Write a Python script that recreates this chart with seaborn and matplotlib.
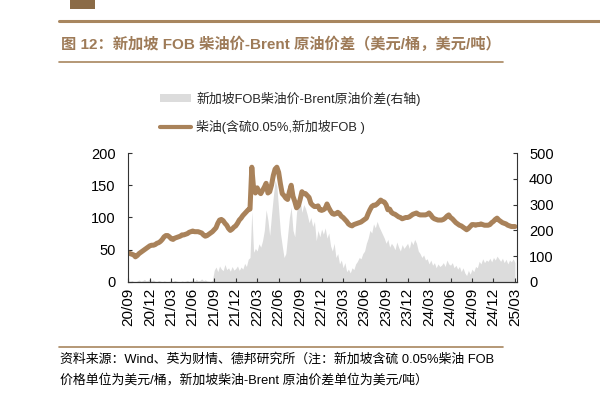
import numpy as np
import pandas as pd
import matplotlib
matplotlib.use('Agg')
import matplotlib.pyplot as plt
from matplotlib.lines import Line2D
from matplotlib.patches import Patch, Rectangle
import seaborn as sns

# 柴油 新加坡FOB (美元/桶), 每月4个点, 从20/09开始
diesel = [
    45, 44, 43, 42,   39, 41, 44, 46,   48, 50, 52, 54,      # 20/09-20/11
    56, 57, 57, 58,   60, 61, 63, 66,   70, 72, 72, 70,      # 20/12-21/02
    67, 66, 68, 69,   70, 71, 73, 73,   74, 75, 77, 78,      # 21/03-21/05
    79, 78, 78, 78,   77, 76, 73, 71,   72, 74, 76, 78,      # 21/06-21/08
    81, 84, 91, 96,   97, 95, 91, 88,   83, 80, 82, 85,      # 21/09-21/11
    87, 91, 96, 99,   103, 106, 109, 112, 113, 178, 145, 138,  # 21/12-22/02
    146, 140, 137, 142, 147, 153, 138, 140, 150, 165, 175, 178,  # 22/03-22/05
    170, 152, 137, 134, 130, 128, 140, 150, 133, 125, 115, 118,  # 22/06-22/08
    128, 140, 137, 137, 134, 131, 122, 119, 117, 117, 118, 112,  # 22/09-22/11
    111, 112, 114, 121, 115, 110, 106, 105, 106, 108, 106, 102,  # 22/12-23/02
    100, 97, 94, 90,  88, 87, 89, 90,   91, 92, 93, 95,      # 23/03-23/05
    97, 99, 106, 112, 117, 119, 119, 121, 124, 127, 125, 124,  # 23/06-23/08
    120, 112, 113, 108, 106, 105, 103, 101, 100, 98, 99, 100,  # 23/09-23/11
    100, 101, 103, 105, 106, 107, 105, 104, 104, 104, 104, 105,  # 23/12-24/02
    107, 104, 100, 98, 97, 96, 96, 96,  97, 99, 102, 104,    # 24/03-24/05
    100, 98, 95, 92,  90, 88, 87, 85,   83, 81, 83, 86,      # 24/06-24/08
    89, 89, 88, 89,   89, 90, 89, 88,   88, 88, 89, 92,      # 24/09-24/11
    94, 97, 99, 96,   94, 92, 91, 90,   88, 87, 86, 86,      # 24/12-25/02
    86,                                                      # 25/03
]

# 新加坡FOB柴油价-Brent原油价差 (美元/吨, 右轴)
spread = [
    3, 0, 5, 2,       0, 4, 8, 3,       5, 10, 4, 6,
    12, 5, 8, 3,      2, 6, 3, 1,       4, 2, 0, 3,
    5, 2, 6, 3,       2, 1, 4, 2,       3, 6, 2, 5,
    8, 3, 10, 4,      6, 12, 5, 8,      4, 3, 2, 6,
    45, 58, 40, 62,   50, 44, 68, 48,   55, 42, 60, 46,
    52, 62, 45, 58,   50, 72, 60, 88,   95, 275, 115, 130,
    120, 148, 135, 160, 200, 280, 240, 180, 260, 330, 395, 370,
    280, 190, 140, 95, 110, 180, 250, 290, 200, 175, 270, 310,
    320, 270, 300, 285, 260, 230, 250, 215, 235, 160, 200, 175,
    205, 185, 210, 170, 190, 140, 120, 150, 95, 110, 70, 85,
    55, 75, 40, 50,   35, 55, 48, 70,   80, 95, 90, 110,
    120, 150, 170, 200, 190, 225, 210, 235, 215, 200, 185, 170,
    150, 165, 135, 150, 140, 125, 155, 135, 120, 145, 130, 140,
    150, 130, 160, 145, 165, 150, 120, 110, 95, 105, 85, 90,
    70, 85, 65, 75,   55, 70, 60, 65,   75, 60, 85, 70,
    65, 75, 55, 65,   50, 60, 40, 55,   35, 25, 45, 30,
    50, 40, 60, 55,   80, 70, 90, 75,   85, 80, 92, 78,
    95, 85, 100, 90,  80, 92, 75, 88,   70, 85, 78, 90,
    75,
]

tick_labels = ['20/09', '20/12', '21/03', '21/06', '21/09', '21/12', '22/03',
               '22/06', '22/09', '22/12', '23/03', '23/06', '23/09', '23/12',
               '24/03', '24/06', '24/09', '24/12', '25/03']

df_line = pd.DataFrame({'month': np.arange(len(diesel)) / 4, 'diesel': diesel})
df_area = pd.DataFrame({'month': np.arange(len(spread)) / 4, 'spread': spread})

BROWN = '#A9825A'
RULE = '#A8865F'
TITLE = '#9E7B58'
GREY = '#DCDCDC'
FONT = ['Liberation Sans', 'Noto Sans CJK SC']

sns.set_style('ticks')
plt.rcParams['font.family'] = FONT

fig = plt.figure(figsize=(6, 3.97), dpi=100)
ax = fig.add_axes([0.2138, 0.2897, 0.6472, 0.3249])
ax2 = ax.twinx()

# 面积 (右轴)
ax2.fill_between(df_area['month'], df_area['spread'], color=GREY, lw=0)
# 折线 (左轴)
sns.lineplot(data=df_line, x='month', y='diesel', ax=ax, color=BROWN, lw=3.6)

ax.set_zorder(ax2.get_zorder() + 1)
ax.patch.set_visible(False)

ax.set_xlim(0, 54.23)
ax.set_ylim(0, 200)
ax2.set_ylim(0, 500)
ax.set_yticks([0, 50, 100, 150, 200])
ax2.set_yticks([0, 100, 200, 300, 400, 500])
ax.set_xticks(np.arange(len(tick_labels)) * 3)
ax.set_xticklabels(tick_labels, rotation=90)
ax.set_xlabel('')
ax.set_ylabel('')

for a in (ax, ax2):
    a.spines['top'].set_visible(False)
    for s in a.spines.values():
        s.set_color('#333333')
        s.set_linewidth(0.8)
ax.spines['right'].set_visible(False)
ax2.spines['left'].set_visible(False)
ax.tick_params(axis='y', direction='in', length=3, pad=9, labelsize=10.5, colors='#333333', labelcolor='black')
ax.tick_params(axis='x', direction='in', length=3, pad=4, labelsize=11, colors='#333333', labelcolor='black')
ax2.tick_params(axis='y', direction='in', length=3, pad=9, labelsize=10.5, colors='#333333', labelcolor='black')

# 图例
handles = [Patch(facecolor=GREY, edgecolor='none'),
           Line2D([0], [0], color=BROWN, lw=3)]
labels = ['新加坡FOB柴油价-Brent原油价差(右轴)', '柴油(含硫0.05%,新加坡FOB )']
fig.legend(handles, labels, loc='upper left', bbox_to_anchor=(148 / 600, 1 - 80 / 397),
           frameon=False, prop={'family': FONT, 'size': 9.3},
           handlelength=2.4, handleheight=0.6, handletextpad=0.45, labelspacing=1.1)

# 标题与分隔线
fig.add_artist(Rectangle((70 / 600, 1 - 9 / 397), 25 / 600, 9 / 397,
                         transform=fig.transFigure, color='#8B6B47', lw=0))
fig.add_artist(Line2D([59 / 600, 1.0], [1 - 20.5 / 397] * 2, transform=fig.transFigure,
                      color=RULE, lw=2.2))
fig.text(61 / 600, 1 - 44 / 397, '图 12：新加坡 FOB 柴油价-Brent 原油价差（美元/桶，美元/吨）',
         fontsize=11, fontweight='bold', color=TITLE, va='center', family=FONT)
fig.add_artist(Line2D([59 / 600, 503 / 600], [1 - 61.5 / 397] * 2, transform=fig.transFigure,
                      color=RULE, lw=1.2))

# 资料来源
fig.add_artist(Line2D([59 / 600, 503 / 600], [1 - 347 / 397] * 2, transform=fig.transFigure,
                      color=RULE, lw=1.2))
fig.text(60 / 600, 1 - 359.5 / 397, '资料来源：Wind、英为财情、德邦研究所（注：新加坡含硫 0.05%柴油 FOB',
         fontsize=9.3, color='black', va='center', family=FONT)
fig.text(60 / 600, 1 - 380 / 397, '价格单位为美元/桶，新加坡柴油-Brent 原油价差单位为美元/吨）',
         fontsize=9.3, color='black', va='center', family=FONT)

fig.savefig('out.png', dpi=100)
